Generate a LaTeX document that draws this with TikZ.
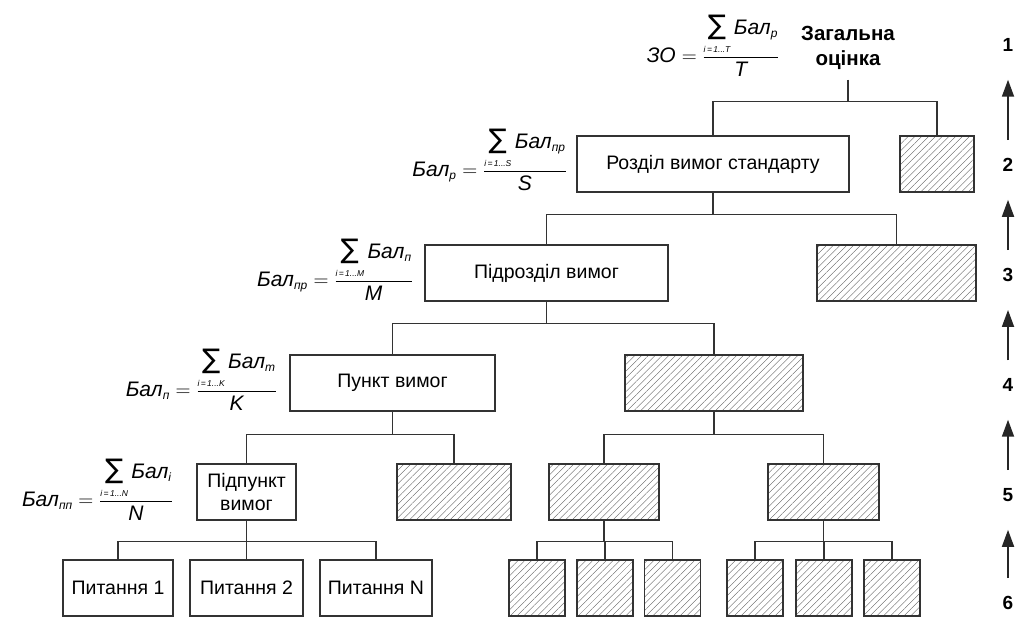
\documentclass[tikz,border=0pt]{standalone}
\usepackage{fontspec}
\setmainfont{Liberation Sans}
\newfontfamily\djv{DejaVu Sans}
\usepackage{amsmath}
\usetikzlibrary{patterns.meta,arrows.meta}
\newcommand{\mysum}{\mathop{\mbox{\djv\fontsize{27}{27}\selectfont ∑}}\limits}
\newcommand{\myfml}[5]{$\mbox{\itshape #1}_{\mbox{\fontsize{12}{12}\selectfont\itshape #2}} = \dfrac{\mysum_{\mbox{\fontsize{8.5}{8.5}\selectfont\itshape i\,=\,1...#3}}\mbox{\itshape Бал}_{\mbox{\fontsize{12}{12}\selectfont\itshape #4}}}{\mbox{\itshape #5}}$}
\begin{document}
\begin{tikzpicture}[x=1pt,y=-1pt,
  box/.style={draw=black!80, line width=1.1pt, fill=white, minimum height=56pt, inner sep=0pt, font=\fontsize{19.5}{23}\selectfont},
  hbox/.style={draw=black!80, line width=1.1pt, minimum height=56pt, inner sep=0pt, pattern={Lines[angle=45,distance=4.8pt,line width=0.35pt]}, pattern color=black!65},
  conn/.style={draw=black!80, line width=1.1pt},
  fml/.style={font=\fontsize{21}{24}\selectfont, inner sep=0pt},
  lvl/.style={font=\fontsize{19}{22}\selectfont\bfseries, inner sep=2pt},
  uparr/.style={line width=1.8pt, black!85, -{Triangle[length=17pt,width=12pt]}, shorten >=26pt, shorten <=16pt}
]
\useasboundingbox (0,0) rectangle (1016,617);
% top
\node[font=\fontsize{20.5}{25}\selectfont\bfseries, align=center, inner sep=0pt] (top) at (848,48) {Загальна\\оцінка};
\node[fml] (f1) at (713,46) {\myfml{ЗО}{}{T}{p}{T}};
% level 2
\node[box, minimum width=272pt] (r2) at (713,164) {Розділ вимог стандарту};
\node[hbox, minimum width=74pt] (h2) at (937,164) {};
\node[fml, anchor=east] (f2) at (567,160) {\myfml{Бал}{p}{S}{пр}{S}};
% level 3
\node[box, minimum width=243pt] (r3) at (546.5,273) {Підрозділ вимог};
\node[hbox, minimum width=159pt] (h3) at (896.5,273) {};
\node[fml, anchor=east] (f3) at (413,270) {\myfml{Бал}{пр}{M}{п}{M}};
% level 4
\node[box, minimum width=205pt] (r4) at (392.5,383) {Пункт вимог};
\node[hbox, minimum width=178pt] (h4) at (714,383) {};
\node[fml, anchor=east] (f4) at (277,380) {\myfml{Бал}{п}{K}{m}{K}};
% level 5
\node[box, minimum width=99pt, align=center] (r5) at (246.5,492) {Підпункт\\вимог};
\node[hbox, minimum width=114pt] (h5a) at (454,492) {};
\node[hbox, minimum width=110pt] (h5b) at (604,492) {};
\node[hbox, minimum width=111pt] (h5c) at (823.5,492) {};
\node[fml, anchor=east] (f5) at (173,490) {\myfml{Бал}{пп}{N}{i}{N}};
% level 6
\node[box, minimum width=110pt] (q1) at (118,588) {Питання 1};
\node[box, minimum width=113pt] (q2) at (246.5,588) {Питання 2};
\node[box, minimum width=112pt] (q3) at (376,588) {Питання N};
\node[hbox, minimum width=56pt] (ha1) at (537,588) {};
\node[hbox, minimum width=56pt] (ha2) at (605,588) {};
\node[hbox, minimum width=56pt] (ha3) at (672.5,588) {};
\node[hbox, minimum width=56pt] (hb1) at (755,588) {};
\node[hbox, minimum width=56pt] (hb2) at (824,588) {};
\node[hbox, minimum width=56pt] (hb3) at (892,588) {};
% connectors
\draw[conn] ([yshift=-10pt]top.south) -- ++(0,22) -| (r2.north);
\draw[conn] ([yshift=-10pt]top.south) -- ++(0,22) -| (h2.north);
\draw[conn] (r2.south) -- ++(0,22) -| (r3.north);
\draw[conn] (r2.south) -- ++(0,22) -| (h3.north);
\draw[conn] (r3.south) -- ++(0,22) -| (r4.north);
\draw[conn] (r3.south) -- ++(0,22) -| (h4.north);
\draw[conn] (r4.south) -- ++(0,23) -| (r5.north);
\draw[conn] (r4.south) -- ++(0,23) -| (h5a.north);
\draw[conn] (h4.south) -- ++(0,23) -| (h5b.north);
\draw[conn] (h4.south) -- ++(0,23) -| (h5c.north);
\foreach \c in {q1,q2,q3} \draw[conn] (r5.south) -- ++(0,21) -| (\c.north);
\foreach \c in {ha1,ha2,ha3} \draw[conn] (h5b.south) -- ++(0,21) -| (\c.north);
\foreach \c in {hb1,hb2,hb3} \draw[conn] (h5c.south) -- ++(0,21) -| (\c.north);
% levels
\node[lvl] (n1) at (1008,45) {1};
\node[lvl] (n2) at (1008,165) {2};
\node[lvl] (n3) at (1008,275) {3};
\node[lvl] (n4) at (1008,385) {4};
\node[lvl] (n5) at (1008,495) {5};
\node[lvl] (n6) at (1008,603) {6};
\draw[uparr] (n2.north) -- (n1.south);
\draw[uparr] (n3.north) -- (n2.south);
\draw[uparr] (n4.north) -- (n3.south);
\draw[uparr] (n5.north) -- (n4.south);
\draw[uparr] (n6.north) -- (n5.south);
\end{tikzpicture}
\end{document}
